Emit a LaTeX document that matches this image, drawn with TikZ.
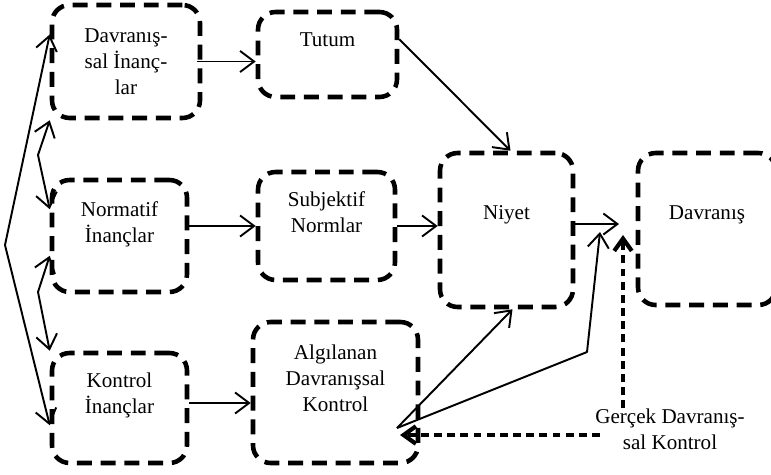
\documentclass[tikz,border=0pt]{standalone}
\usepackage{fontspec}
\setmainfont{Liberation Serif}
\usetikzlibrary{arrows.meta,calc}

\tikzset{
  kutu/.style={draw, line width=2.6pt, dash pattern=on 8.5pt off 5pt,
    rounded corners=10pt, inner sep=0pt},
  metin/.style={align=center, font=\fontsize{12}{14.8}\selectfont},
  ok/.style={-{Straight Barb[length=8pt,width=12pt]}, line width=1.1pt},
  ciftok/.style={{Straight Barb[length=8pt,width=12pt]}-{Straight Barb[length=8pt,width=12pt]},
    line width=1.1pt},
  kesikok/.style={-{Straight Barb[length=7pt,width=10pt,line width=2.4pt]},
    line width=2.1pt, dash pattern=on 4.5pt off 3pt},
}

\begin{document}
\begin{tikzpicture}[x=0.02cm, y=-0.02cm, line join=round]
  \useasboundingbox (0,0) rectangle (771,474);

  % Belief boxes (left column)
  \node[kutu, minimum width=2.96cm, minimum height=2.26cm,
    label={[metin]center:{Davranış-\\sal İnanç-\\lar}}] (davinanc) at (126,61.5) {};
  \node[kutu, minimum width=2.70cm, minimum height=2.24cm,
    label={[metin, yshift=0.24cm]center:{Normatif\\İnançlar}}] (norminanc) at (119.5,236) {};
  \node[kutu, minimum width=2.70cm, minimum height=2.20cm,
    label={[metin, yshift=0.26cm]center:{Kontrol\\İnançlar}}] (kontinanc) at (119.5,408) {};

  % Middle column
  \node[kutu, minimum width=2.78cm, minimum height=1.70cm,
    label={[metin, yshift=0.29cm]center:Tutum}] (tutum) at (327.5,54.5) {};
  \node[kutu, minimum width=2.74cm, minimum height=2.16cm,
    label={[metin, yshift=0.27cm]center:{Subjektif\\Normlar}}] (subjnorm) at (326.5,226) {};
  \node[kutu, minimum width=3.30cm, minimum height=2.82cm,
    label={[metin, yshift=0.29cm]center:{Algılanan\\Davranışsal\\Kontrol}}] (algdk) at (335.5,392.5) {};

  % Intention and behaviour
  \node[kutu, minimum width=2.66cm, minimum height=3.08cm,
    label={[metin, yshift=0.30cm]center:Niyet}] (niyet) at (506.5,230) {};
  \node[kutu, minimum width=2.76cm, minimum height=3.04cm,
    label={[metin, yshift=0.28cm]center:Davranış}] (davranis) at (707,229) {};

  % Actual control label
  \node[metin, inner sep=0pt] (gercek) at (670,429) {Gerçek Davranış-\\sal Kontrol};

  % Helper points
  \coordinate (apex) at (5,245);
  \coordinate (kinka) at (38,155);
  \coordinate (kinkb) at (38,292);
  \coordinate (adkout) at (397,428);
  \coordinate (bend) at (587,352);
  \coordinate (meet) at (619,224);
  \coordinate (meetb) at (600,232);
  \coordinate (meetc) at (623,235);

  % Left side links between beliefs
  \draw[ok] (apex) -- ($(davinanc.north west)!0.27!(davinanc.south west)$);
  \draw[ok] (apex) -- ($(kontinanc.north west)!0.65!(kontinanc.south west)$);
  \draw[ciftok] (davinanc.south west) -- (kinka)
    -- ($(norminanc.north west)!0.27!(norminanc.south west)$);
  \draw[ciftok] ($(norminanc.north west)!0.67!(norminanc.south west)$) -- (kinkb)
    -- (kontinanc.north west);

  % Beliefs to attitudes
  \draw[ok] ($(davinanc.east)+(-5,0)$) -- (davinanc.east -| tutum.west);
  \draw[ok] (norminanc.east |- subjnorm.west) -- (subjnorm.west);
  \draw[ok] ($(kontinanc.east)+(0,-5)$) -- ($(kontinanc.east -| algdk.west)+(0,-5)$);

  % Attitudes to intention
  \draw[ok] (tutum.12) -- ($(niyet.north)+(4,0)$);
  \draw[ok] (subjnorm.east) -- (subjnorm.east -| niyet.west);
  \draw[ok] (adkout) -- ($(niyet.south)+(6,0)$);

  % Intention and control to behaviour
  \draw[ok] (meet -| niyet.east) -- (meet);
  \draw[ok] (adkout) -- (bend) -- (meetb);
  \draw[kesikok] (gercek.north -| meetc) -- (meetc);
  \draw[kesikok] ($(gercek.west)+(5,6)$) -- ($(adkout |- gercek.west)+(3,6)$);
\end{tikzpicture}
\end{document}
